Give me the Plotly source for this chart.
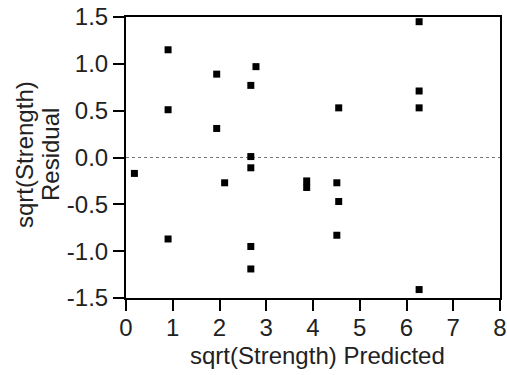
import plotly.graph_objects as go

x_predicted = [0.18, 0.90, 0.90, 0.90, 1.94, 1.94, 2.11, 2.67, 2.67, 2.67, 2.67, 2.67,
               2.78, 3.865, 3.865, 4.51, 4.51, 4.55, 4.55, 6.27, 6.27, 6.27, 6.27]
residual = [-0.17, 1.15, 0.51, -0.87, 0.89, 0.31, -0.27, 0.77, 0.01, -0.11, -0.95, -1.19,
            0.97, -0.25, -0.32, -0.27, -0.83, 0.53, -0.47, 1.45, 0.71, 0.53, -1.41]

x_tick_vals = [0, 1, 2, 3, 4, 5, 6, 7, 8]
x_tick_text = ["0", "1", "2", "3", "4", "5", "6", "7", "8"]
y_tick_vals = [-1.5, -1.0, -0.5, 0.0, 0.5, 1.0, 1.5]
y_tick_text = ["-1.5", "-1.0", "-0.5", "0.0", "0.5", "1.0", "1.5"]

x_title = "sqrt(Strength) Predicted"
y_title_lines = ["sqrt(Strength)", "Residual"]

FONT = "Liberation Sans, Arial, sans-serif"
TXT = "#222222"

W, H = 507, 375
L, R, T, B = 126, 7, 17, 77
PW = W - L - R
PH = H - T - B


def px_x(px):  # page pixel x -> paper x
    return (px - L) / PW


def px_y(py):  # page pixel y -> paper y
    return 1 - (py - T) / PH


fig = go.Figure()
fig.add_trace(go.Scatter(
    x=x_predicted, y=residual, mode="markers",
    marker=dict(symbol="square", size=7, color="black", line=dict(width=0)),
    showlegend=False, cliponaxis=False, hoverinfo="skip",
))

axis_common = dict(
    showgrid=False, zeroline=False, showline=True, linecolor="black", linewidth=2,
    mirror=True, ticks="outside", ticklen=11, tickwidth=2, tickcolor="black",
    tickfont=dict(family=FONT, size=24, color=TXT), automargin=False,
)
fig.update_xaxes(range=[0, 8], tickvals=x_tick_vals, ticktext=x_tick_text,
                 ticklabelstandoff=-4, **axis_common)
fig.update_yaxes(range=[-1.5, 1.5], tickvals=y_tick_vals, ticktext=y_tick_text, **axis_common)

fig.add_shape(type="line", xref="paper", yref="y", x0=0, x1=1, y0=0, y1=0,
              line=dict(color="#777777", width=1, dash="dot"), layer="below")

fig.add_annotation(text=x_title, xref="paper", yref="paper", x=px_x(317), y=px_y(355),
                   xanchor="center", yanchor="middle", showarrow=False,
                   font=dict(family=FONT, size=24, color=TXT))
fig.add_annotation(text=y_title_lines[0], xref="paper", yref="paper", x=px_x(24), y=px_y(155),
                   xanchor="center", yanchor="middle", textangle=-90, showarrow=False,
                   font=dict(family=FONT, size=24, color=TXT))
fig.add_annotation(text=y_title_lines[1], xref="paper", yref="paper", x=px_x(50), y=px_y(155),
                   xanchor="center", yanchor="middle", textangle=-90, showarrow=False,
                   font=dict(family=FONT, size=24, color=TXT))

fig.update_layout(
    width=W, height=H,
    margin=dict(l=L, r=R, t=T, b=B, autoexpand=False),
    paper_bgcolor="white", plot_bgcolor="white",
    font=dict(family=FONT, size=24, color=TXT),
)

fig.write_html("out.html", config={"displayModeBar": False},
               post_script="document.body.style.margin='0';document.body.style.overflow='hidden';")
